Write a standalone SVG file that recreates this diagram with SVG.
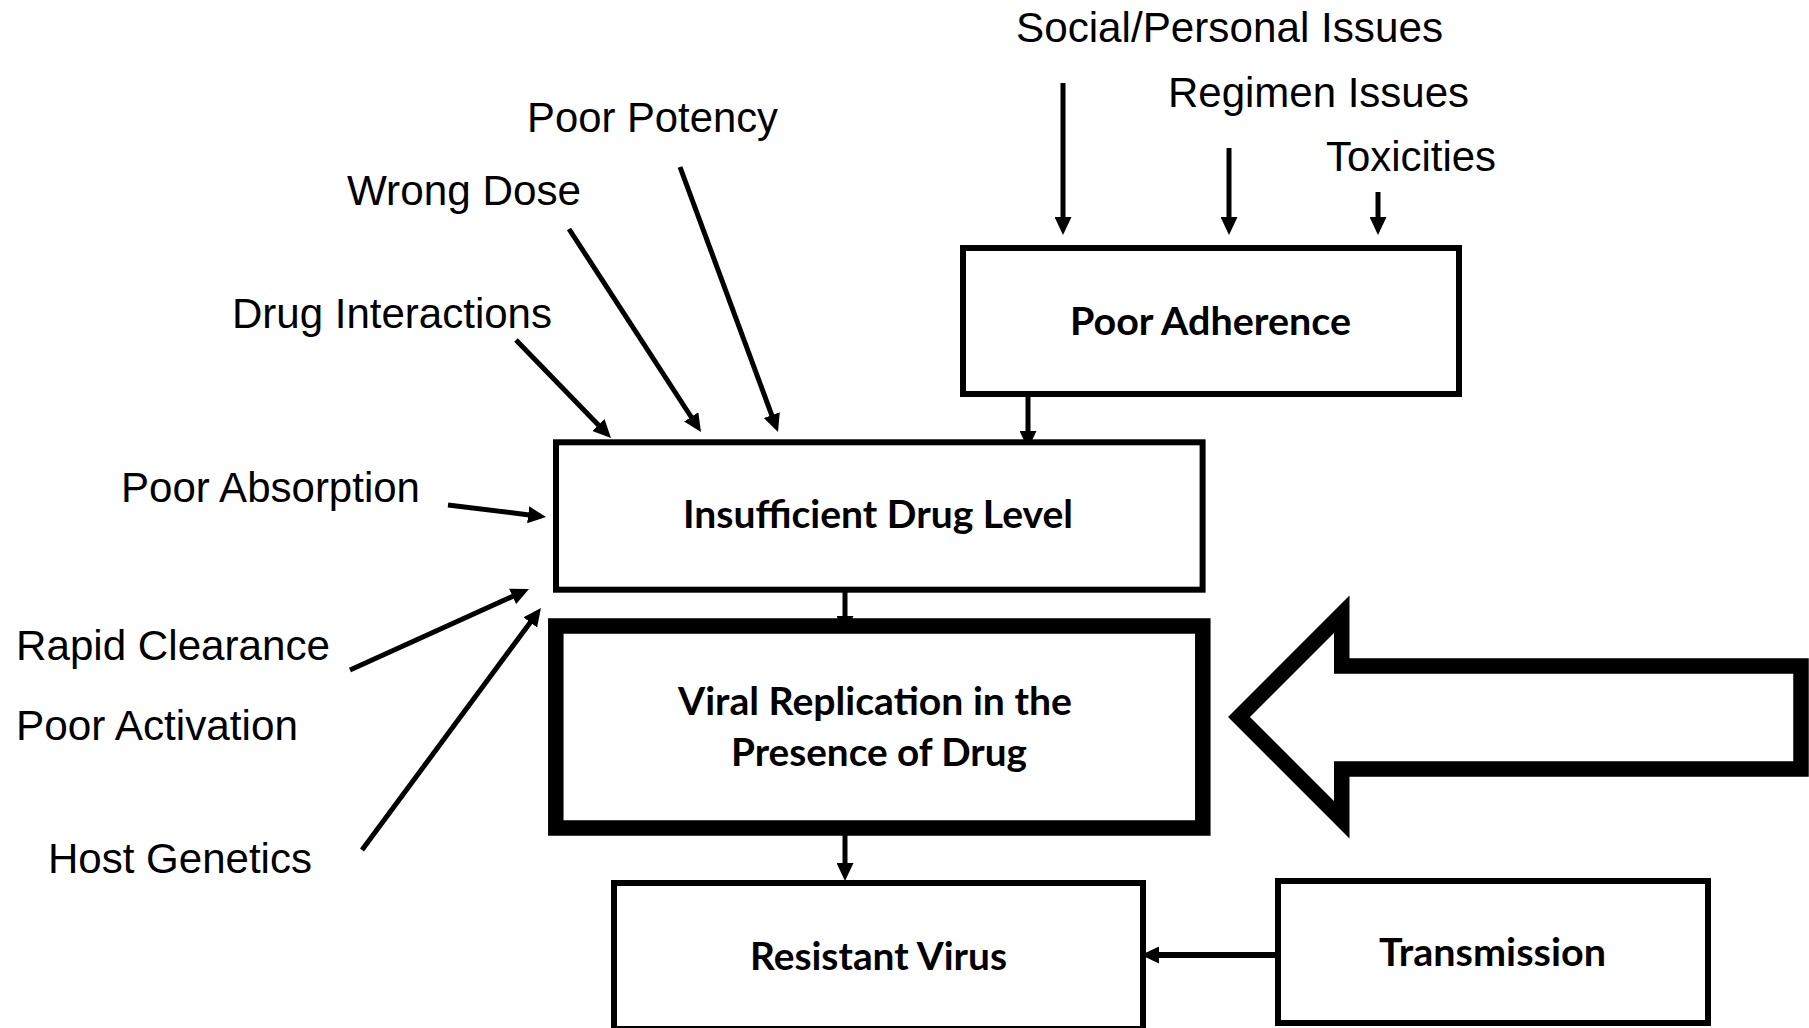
<svg xmlns="http://www.w3.org/2000/svg" width="1809" height="1028" viewBox="0 0 1809 1028">
<style>
.lbl{font-family:"Liberation Sans",Arial,sans-serif;font-size:42px;fill:#000}
.bx{fill:#fff;stroke:#000;stroke-width:6}
.bt{font-family:Lato,"Liberation Sans",sans-serif;font-weight:bold;font-size:39px;fill:#000}
.cn{stroke:#000;stroke-width:5;fill:none;marker-end:url(#ah)}
</style>
<defs>
<marker id="ah" viewBox="0 0 18 17" refX="9" refY="8.5" markerWidth="18" markerHeight="17" markerUnits="userSpaceOnUse" orient="auto">
<path d="M0,0 L18,8.5 L0,17 z" fill="#000"/>
</marker>
</defs>
<rect width="1809" height="1028" fill="#fff"/>

<g id="labels">
<text class="lbl" x="1016" y="42" textLength="427" lengthAdjust="spacingAndGlyphs">Social/Personal Issues</text>
<text class="lbl" x="1168" y="107" textLength="301" lengthAdjust="spacingAndGlyphs">Regimen Issues</text>
<text class="lbl" x="1326" y="171" textLength="170" lengthAdjust="spacingAndGlyphs">Toxicities</text>
<text class="lbl" x="527" y="132" textLength="251" lengthAdjust="spacingAndGlyphs">Poor Potency</text>
<text class="lbl" x="347" y="205" textLength="234" lengthAdjust="spacingAndGlyphs">Wrong Dose</text>
<text class="lbl" x="232" y="328" textLength="320" lengthAdjust="spacingAndGlyphs">Drug Interactions</text>
<text class="lbl" x="121" y="502" textLength="299" lengthAdjust="spacingAndGlyphs">Poor Absorption</text>
<text class="lbl" x="16" y="660" textLength="314" lengthAdjust="spacingAndGlyphs">Rapid Clearance</text>
<text class="lbl" x="16" y="740" textLength="282" lengthAdjust="spacingAndGlyphs">Poor Activation</text>
<text class="lbl" x="48" y="873" textLength="264" lengthAdjust="spacingAndGlyphs">Host Genetics</text>
</g>

<g id="connectors">
<line class="cn" x1="1063" y1="83" x2="1063" y2="226"/>
<line class="cn" x1="1229" y1="148" x2="1229" y2="226"/>
<line class="cn" x1="1378" y1="192" x2="1378" y2="226"/>
<line class="cn" x1="1028" y1="397" x2="1028" y2="440"/>
<line class="cn" x1="516" y1="340" x2="604.7" y2="431.5"/>
<line class="cn" x1="569" y1="229" x2="696.1" y2="424.5"/>
<line class="cn" x1="680" y1="167" x2="774.9" y2="423.6"/>
<line class="cn" x1="448" y1="505" x2="537.1" y2="515.9"/>
<line class="cn" x1="350" y1="670" x2="520.8" y2="592.7"/>
<line class="cn" x1="362" y1="850" x2="535.6" y2="615.2"/>
<line class="cn" x1="845" y1="592" x2="845" y2="625"/>
<line class="cn" x1="845" y1="830" x2="845" y2="872"/>
<line class="cn" style="stroke-width:6" x1="1275" y1="955" x2="1150" y2="955"/>
</g>

<g id="node-poor-adherence">
<rect class="bx" x="963" y="248" width="496" height="146"/>
<text class="bt" x="1070" y="335" textLength="281" lengthAdjust="spacingAndGlyphs">Poor Adherence</text>
</g>

<g id="node-insufficient">
<rect class="bx" x="556" y="442.3" width="646.6" height="147.4"/>
<text class="bt" x="683" y="528" textLength="390" lengthAdjust="spacingAndGlyphs">Insufficient Drug Level</text>
</g>

<g id="node-viral">
<rect class="bx" style="stroke-width:15.5" x="555.8" y="626" width="647" height="202"/>
<text class="bt" x="678" y="715" textLength="394" lengthAdjust="spacingAndGlyphs">Viral Replication in the</text>
<text class="bt" x="731" y="766" textLength="296" lengthAdjust="spacingAndGlyphs">Presence of Drug</text>
</g>

<g id="node-resistant">
<rect class="bx" x="614" y="883" width="529" height="146"/>
<text class="bt" x="750" y="970" textLength="257" lengthAdjust="spacingAndGlyphs">Resistant Virus</text>
</g>

<g id="node-transmission">
<rect class="bx" x="1278" y="881" width="430" height="142"/>
<text class="bt" x="1379" y="966" textLength="227" lengthAdjust="spacingAndGlyphs">Transmission</text>
</g>

<g id="block-arrow">
<polygon points="1239,717 1341.75,614.25 1341.75,666 1801,666 1801,769 1341.75,769 1341.75,819.75" fill="#fff" stroke="#000" stroke-width="15.5" stroke-linejoin="miter"/>
</g>
</svg>
